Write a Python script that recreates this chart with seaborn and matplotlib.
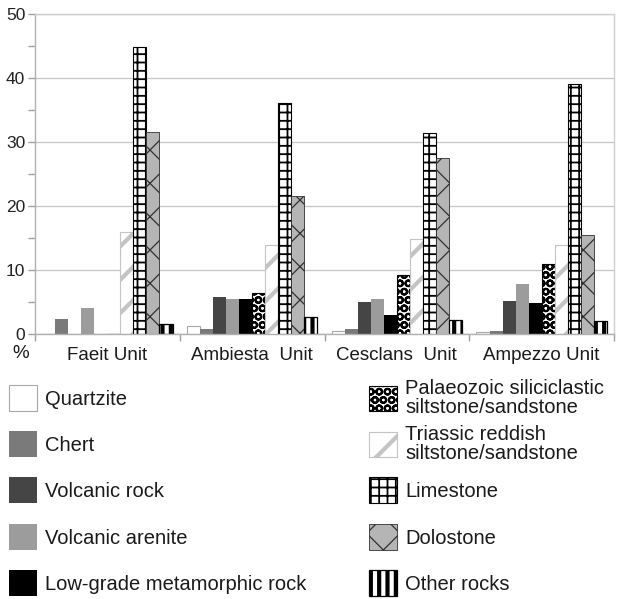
import numpy as np
import pandas as pd
import matplotlib
matplotlib.use("Agg")
import matplotlib.pyplot as plt
import seaborn as sns

# ---- data ----
units = ["Faeit Unit", "Ambiesta  Unit", "Cesclans  Unit", "Ampezzo Unit"]
rocks = ["Quartzite", "Chert", "Volcanic rock", "Volcanic arenite",
         "Low-grade metamorphic rock",
         "Palaeozoic siliciclastic\nsiltstone/sandstone",
         "Triassic reddish\nsiltstone/sandstone",
         "Limestone", "Dolostone", "Other rocks"]
quartzite = [0.0, 1.3, 0.4, 0.3]
chert = [2.4, 0.8, 0.8, 0.4]
volcanic_rock = [0.0, 5.8, 5.0, 5.1]
volcanic_arenite = [4.0, 5.4, 5.5, 7.8]
low_grade = [0.0, 5.5, 3.0, 4.9]
palaeozoic = [0.0, 6.4, 9.2, 11.0]
triassic = [15.9, 13.9, 14.9, 13.9]
limestone = [44.8, 36.1, 31.4, 39.1]
dolostone = [31.6, 21.6, 27.5, 15.5]
other_rocks = [1.6, 2.6, 2.2, 2.0]
yticks = [0, 10, 20, 30, 40, 50]

series = [quartzite, chert, volcanic_rock, volcanic_arenite, low_grade,
          palaeozoic, triassic, limestone, dolostone, other_rocks]
rows = []
for rock, vals in zip(rocks, series):
    for u, v in zip(units, vals):
        rows.append({"unit": u, "rock": rock, "value": v})
df = pd.DataFrame(rows)

# ---- styles ----
styles = [
    dict(fc="white", ec="#a8a8a8", lw=0.8, hatch=None, hlw=1.0),
    dict(fc="#7a7a7a", ec="none", lw=0, hatch=None, hlw=1.0),
    dict(fc="#454545", ec="none", lw=0, hatch=None, hlw=1.0),
    dict(fc="#9c9c9c", ec="none", lw=0, hatch=None, hlw=1.0),
    dict(fc="#000000", ec="none", lw=0, hatch=None, hlw=1.0),
    dict(fc="white", ec="black", lw=0.8, hatch="OO", hlw=1.5),
    dict(fc="white", ec="#c4c4c4", lw=0.8, hatch="/", hlw=3.0),
    dict(fc="white", ec="black", lw=0.8, hatch="++", hlw=1.3),
    dict(fc="#b5b5b5", ec="#303030", lw=0.6, hatch="x", hlw=0.9),
    dict(fc="white", ec="black", lw=0.9, hatch="||", hlw=3.0),
]

sns.set_theme(style="white")
plt.rcParams["font.family"] = ["Liberation Sans", "DejaVu Sans"]
plt.rcParams["hatch.linewidth"] = 1.0

fig = plt.figure(figsize=(6.17, 5.99), dpi=100)
ax = fig.add_axes([35 / 617, 1 - 334 / 599, 579 / 617, 320 / 599])

sns.barplot(data=df, x="unit", y="value", hue="rock", hue_order=rocks,
            order=units, palette=[s["fc"] for s in styles], saturation=1,
            width=0.9, gap=0, errorbar=None, legend=False, ax=ax)


def apply_style(p, s):
    p.set_facecolor(s["fc"])
    p.set_edgecolor(s["ec"])
    p.set_linewidth(s["lw"])
    if s["hatch"]:
        p.set_hatch(s["hatch"])
        if hasattr(p, "set_hatch_linewidth"):
            p.set_hatch_linewidth(s["hlw"])


for cont, s in zip(ax.containers, styles):
    for p in cont.patches:
        apply_style(p, s)

ax.set_xlim(-0.5, 3.5)
ax.set_ylim(0, 50)
ax.set_yticks(yticks)
ax.set_yticks(np.arange(5, 50, 10), minor=True)
ax.set_xticks(np.arange(-0.5, 4.0, 1.0), minor=True)
ax.set_xlabel("")
ax.set_ylabel("")
ax.yaxis.grid(True, color="#c9c9c9", lw=1.0)
ax.set_axisbelow(True)
for sp in ax.spines.values():
    sp.set_color("#b0b0b0")
    sp.set_linewidth(1.0)
ax.spines["top"].set_color("#cfcfcf")
ax.spines["right"].set_color("#cfcfcf")
ax.tick_params(axis="y", which="both", direction="out", length=5, width=1,
               color="#a0a0a0", labelsize=12.5, labelcolor="#222222", pad=2,
               left=True)
ax.tick_params(axis="x", which="major", length=0, pad=9, labelsize=13.5,
               labelcolor="#1a1a1a")
ax.tick_params(axis="x", which="minor", direction="out", length=5, width=1,
               color="#a0a0a0", bottom=True)

fig.text(21 / 617, 1 - 353 / 599, "%", ha="center", va="center",
         fontsize=13.5, color="#1a1a1a")

# ---- legend ----
fs = 14.5
fs_px = fs * 100 / 72
row_y = [398, 444, 490, 537, 583]
for i, cont in enumerate(ax.containers):
    col = i // 5
    r = i % 5
    x = (9 if col == 0 else 369) / 617
    y = 1 - row_y[r] / 599
    leg = fig.legend(handles=[cont], labels=[rocks[i]], loc="center left",
                     bbox_to_anchor=(x, y), frameon=False, borderpad=0,
                     borderaxespad=0, fontsize=fs,
                     handlelength=28 / fs_px, handleheight=1.54,
                     handletextpad=8 / fs_px)
    for t in leg.get_texts():
        t.set_linespacing(1.0)
        t.set_color("#1a1a1a")
    for h in leg.legend_handles:
        apply_style(h, styles[i])

fig.savefig("out.png", dpi=100)
